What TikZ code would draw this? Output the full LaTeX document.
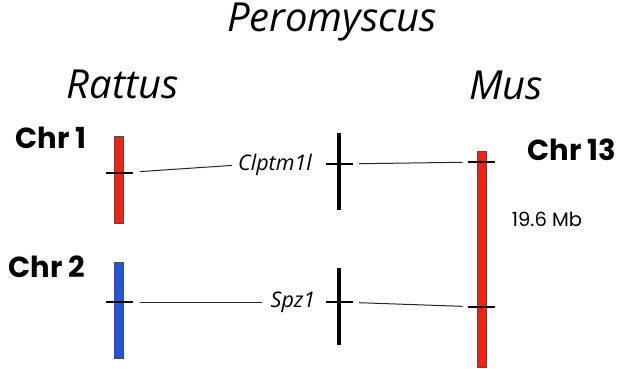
\documentclass[tikz,border=0pt]{standalone}
\usepackage{fontspec}
\setmainfont{Open Sans}
\newfontfamily\chrfont{Poppins}
\usetikzlibrary{positioning,calc}
\definecolor{chrred}{RGB}{240,35,20}
\definecolor{chrblue}{RGB}{30,85,230}
\tikzset{
  species/.style={font=\fontsize{40}{42}\selectfont\itshape, inner sep=0pt},
  chrlabel/.style={font=\chrfont\fontsize{29}{32}\selectfont\bfseries, inner sep=0pt},
  gene/.style={font=\fontsize{21.5}{24}\selectfont\itshape, inner sep=0pt},
  chrbar/.style={draw=black!70, line width=0.5pt, minimum width=9pt, inner sep=0pt},
  pbar/.style={fill=black, minimum width=4.5pt, inner sep=0pt},
  tick/.style={line width=1.8pt},
  link/.style={line width=1pt, black!85},
}
\begin{document}
\begin{tikzpicture}[x=1pt, y=-1pt]
\useasboundingbox (0,0) rectangle (632,368);
% species names
\node[species] (pero) at (332,22) {Peromyscus};
\node[species] (rat) at (123,84) {Rattus};
\node[species] (mus) at (506,85) {Mus};
% chromosome labels
\node[chrlabel] (c1) at (51,138) {Chr 1};
\node[chrlabel] (c2) at (47,267) {Chr 2};
\node[chrlabel] (c13) at (572,150) {Chr 13};
\node[font=\chrfont\fontsize{19.5}{22}\selectfont, inner sep=0pt] (mb) at (547,219) {19.6 Mb};
% chromosome bars
\node[chrbar, fill=chrred, minimum height=87pt] (r1) at (118.5,179.5) {};
\node[chrbar, fill=chrblue, minimum height=96pt] (r2) at (118.5,310) {};
\node[chrbar, fill=chrred, minimum height=216pt] (m13) at (481.5,259) {};
\node[pbar, minimum height=77pt] (p1) at (339,171.5) {};
\node[pbar, minimum height=77pt] (p2) at (339,306.5) {};
% marker positions
\coordinate (r1t) at (119,173);
\coordinate (p1t) at (339,164);
\coordinate (m1t) at (481.5,162);
\coordinate (r2t) at (119,302);
\coordinate (p2t) at (339,302);
\coordinate (m2t) at (481.5,307);
\foreach \t in {r1t,p1t,m1t,r2t,p2t,m2t}
  \draw[tick] ([xshift=-13.5pt]\t) -- ([xshift=13.5pt]\t);
% genes
\node[gene] (g1) at (275,165) {Clptm1l};
\node[gene] (g2) at (293,302) {Spz1};
% links
\draw[link, shorten <=21pt, shorten >=6pt] (r1t) -- (g1.west);
\draw[link, shorten <=20pt, shorten >=19pt] (p1t) -- (m1t);
\draw[link, shorten <=21pt, shorten >=8pt] (r2t) -- (g2.west);
\draw[link, shorten <=20pt, shorten >=19pt] (p2t) -- (m2t);
\end{tikzpicture}
\end{document}
